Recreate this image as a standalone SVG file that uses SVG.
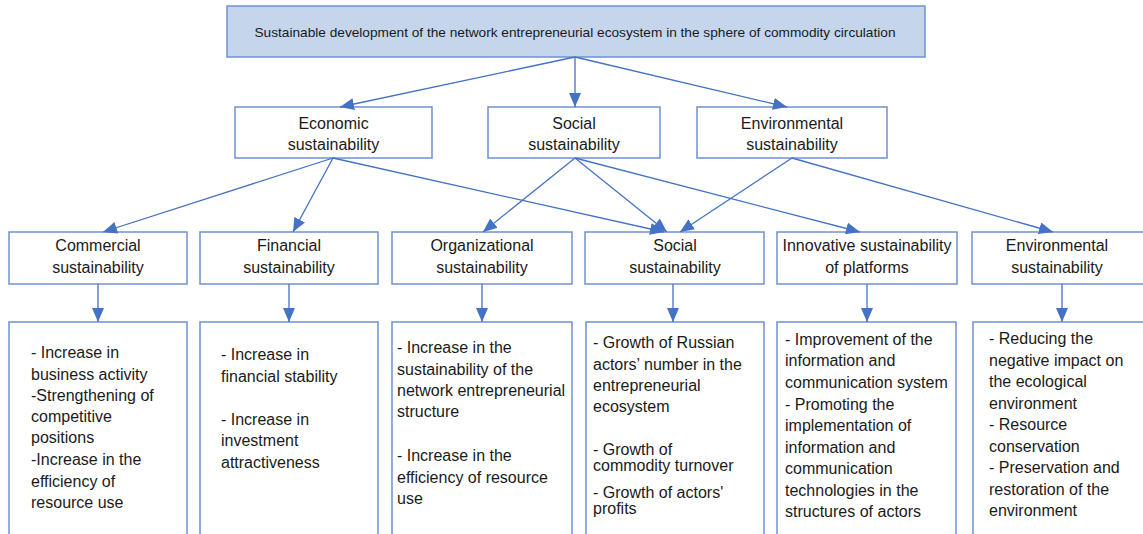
<svg xmlns="http://www.w3.org/2000/svg" width="1143" height="534" viewBox="0 0 1143 534">
<defs>
<marker id="ah" markerUnits="userSpaceOnUse" markerWidth="14" markerHeight="12" refX="14" refY="6" orient="auto">
<path d="M0,0 L14,6 L0,12 z" fill="#4472c4"/>
</marker>
<style>
.box{fill:#fff;stroke:#6f91d2;stroke-width:1.5}
.top{fill:#c5d5ec;stroke:#6f91d2;stroke-width:1.5}
.t{font-family:"Liberation Sans",Arial,sans-serif;font-size:16px;fill:#1a1a1a}
.c{text-anchor:middle}
.con line{stroke:#4472c4;stroke-width:1.3;marker-end:url(#ah)}
</style>
</defs>
<rect width="1143" height="534" fill="#fff"/>
<g id="top">
<rect class="top" x="227" y="6" width="698" height="51"/>
<text class="t c" x="575" y="37" style="font-size:13px" textLength="641" lengthAdjust="spacingAndGlyphs">Sustainable development of the network entrepreneurial ecosystem in the sphere of commodity circulation</text>
</g>
<g id="economic">
<rect class="box" x="235" y="107" width="197" height="51"/>
<text class="t c" x="333.5" y="129">Economic</text>
<text class="t c" x="333.5" y="150">sustainability</text>
</g>
<g id="social">
<rect class="box" x="488" y="107" width="172" height="51"/>
<text class="t c" x="574" y="129">Social</text>
<text class="t c" x="574" y="150">sustainability</text>
</g>
<g id="environmental">
<rect class="box" x="697" y="107" width="190" height="51"/>
<text class="t c" x="792" y="129">Environmental</text>
<text class="t c" x="792" y="150">sustainability</text>
</g>
<g id="commercial">
<rect class="box" x="9" y="232" width="178" height="52"/>
<text class="t c" x="98" y="251">Commercial</text>
<text class="t c" x="98" y="273">sustainability</text>
</g>
<g id="financial">
<rect class="box" x="200" y="232" width="178" height="52"/>
<text class="t c" x="289" y="251">Financial</text>
<text class="t c" x="289" y="273">sustainability</text>
</g>
<g id="organizational">
<rect class="box" x="392" y="232" width="180" height="52"/>
<text class="t c" x="482" y="251">Organizational</text>
<text class="t c" x="482" y="273">sustainability</text>
</g>
<g id="social2">
<rect class="box" x="585" y="232" width="179" height="52"/>
<text class="t c" x="675" y="251">Social</text>
<text class="t c" x="675" y="273">sustainability</text>
</g>
<g id="innovative">
<rect class="box" x="777" y="232" width="180" height="52"/>
<text class="t c" x="867" y="251">Innovative sustainability</text>
<text class="t c" x="867" y="273">of platforms</text>
</g>
<g id="environmental2">
<rect class="box" x="972" y="232" width="180" height="52"/>
<text class="t c" x="1057" y="251">Environmental</text>
<text class="t c" x="1057" y="273">sustainability</text>
</g>
<g id="commercial-res">
<rect class="box" x="9" y="322" width="178" height="230"/>
<text class="t" x="31"><tspan x="31" y="358">- Increase in</tspan><tspan x="31" y="380">business activity</tspan><tspan x="31" y="401">-Strengthening of</tspan><tspan x="31" y="422">competitive</tspan><tspan x="31" y="443">positions</tspan><tspan x="31" y="465">-Increase in the</tspan><tspan x="31" y="487">efficiency of</tspan><tspan x="31" y="508">resource use</tspan></text>
</g>
<g id="financial-res">
<rect class="box" x="200" y="322" width="178" height="230"/>
<text class="t" x="221"><tspan x="221" y="360">- Increase in</tspan><tspan x="221" y="382">financial stability</tspan><tspan x="221" y="425">- Increase in</tspan><tspan x="221" y="446">investment</tspan><tspan x="221" y="468">attractiveness</tspan></text>
</g>
<g id="organizational-res">
<rect class="box" x="392" y="322" width="180" height="230"/>
<text class="t" x="397"><tspan x="397" y="353">- Increase in the</tspan><tspan x="397" y="375">sustainability of the</tspan><tspan x="397" y="396">network entrepreneurial</tspan><tspan x="397" y="417">structure</tspan><tspan x="397" y="461">- Increase in the</tspan><tspan x="397" y="483">efficiency of resource</tspan><tspan x="397" y="504">use</tspan></text>
</g>
<g id="social-res">
<rect class="box" x="586" y="322" width="178" height="230"/>
<text class="t" x="593"><tspan x="593" y="348">- Growth of Russian</tspan><tspan x="593" y="370">actors’ number in the</tspan><tspan x="593" y="391">entrepreneurial</tspan><tspan x="593" y="412">ecosystem</tspan><tspan x="593" y="455">- Growth of</tspan><tspan x="593" y="471">commodity turnover</tspan><tspan x="593" y="498">- Growth of actors'</tspan><tspan x="593" y="514">profits</tspan></text>
</g>
<g id="innovative-res">
<rect class="box" x="777" y="322" width="179" height="230"/>
<text class="t" x="785"><tspan x="785" y="345">- Improvement of the</tspan><tspan x="785" y="366">information and</tspan><tspan x="785" y="388">communication system</tspan><tspan x="785" y="410">- Promoting the</tspan><tspan x="785" y="431">implementation of</tspan><tspan x="785" y="453">information and</tspan><tspan x="785" y="474">communication</tspan><tspan x="785" y="496">technologies in the</tspan><tspan x="785" y="517">structures of actors</tspan></text>
</g>
<g id="environmental-res">
<rect class="box" x="973" y="322" width="180" height="230"/>
<text class="t" x="989"><tspan x="989" y="344">- Reducing the</tspan><tspan x="989" y="366">negative impact on</tspan><tspan x="989" y="387">the ecological</tspan><tspan x="989" y="409">environment</tspan><tspan x="989" y="430">- Resource</tspan><tspan x="989" y="452">conservation</tspan><tspan x="989" y="473">- Preservation and</tspan><tspan x="989" y="495">restoration of the</tspan><tspan x="989" y="516">environment</tspan></text>
</g>
<g class="con" id="connectors">
<line x1="575" y1="57" x2="340" y2="107"/>
<line x1="575" y1="57" x2="575" y2="107"/>
<line x1="575" y1="57" x2="787" y2="107"/>
<line x1="333" y1="158" x2="103" y2="232"/>
<line x1="333" y1="158" x2="293" y2="232"/>
<line x1="333" y1="158" x2="664" y2="232"/>
<line x1="575" y1="158" x2="483" y2="232"/>
<line x1="575" y1="158" x2="667" y2="232"/>
<line x1="575" y1="158" x2="860" y2="232"/>
<line x1="792" y1="158" x2="680" y2="232"/>
<line x1="792" y1="158" x2="1053" y2="232"/>
<line x1="98" y1="284" x2="98" y2="322"/>
<line x1="289" y1="284" x2="289" y2="322"/>
<line x1="482" y1="284" x2="482" y2="322"/>
<line x1="673" y1="284" x2="673" y2="322"/>
<line x1="867" y1="284" x2="867" y2="322"/>
<line x1="1062" y1="284" x2="1062" y2="322"/>
</g>
</svg>
